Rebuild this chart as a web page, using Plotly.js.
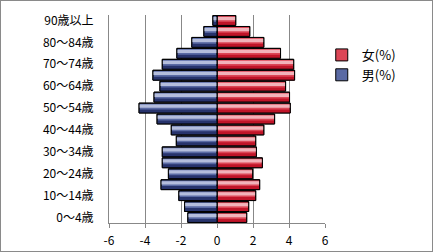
<!DOCTYPE html>
<html>
<head>
<meta charset="utf-8">
<script src="https://cdn.plot.ly/plotly-3.0.1.min.js"></script>
<style>
html,body{margin:0;padding:0;background:#fff;}
#chart{width:433px;height:252px;}
#frame{position:absolute;left:0;top:0;width:433px;height:252px;box-sizing:border-box;border:1px solid #8a8a8a;pointer-events:none;}
</style>
</head>
<body>
<div id="chart"></div>
<div id="frame"></div>
<script>
const ageGroups = ['0〜4歳','5〜9歳','10〜14歳','15〜19歳','20〜24歳','25〜29歳','30〜34歳','35〜39歳','40〜44歳','45〜49歳','50〜54歳','55〜59歳','60〜64歳','65〜69歳','70〜74歳','75〜79歳','80〜84歳','85〜89歳','90歳以上'];
const male = [-1.62,-1.80,-2.12,-3.11,-2.70,-3.04,-3.04,-2.26,-2.54,-3.33,-4.33,-3.50,-3.17,-3.56,-3.04,-2.23,-1.40,-0.73,-0.23];
const female = [1.65,1.76,2.15,2.37,1.98,2.52,2.19,2.15,2.60,3.20,4.07,4.03,3.81,4.31,4.26,3.53,2.60,1.82,1.04];
const tickLabels = ['0〜4歳','10〜14歳','20〜24歳','30〜34歳','40〜44歳','50〜54歳','60〜64歳','70〜74歳','80〜84歳','90歳以上'];
const xTicks = [-6,-4,-2,0,2,4,6];

const FONT = '"Noto Sans CJK JP", "DejaVu Sans", sans-serif';

function layers(vals, name, group, mid, dark, light) {
  return [
    {type:'bar', orientation:'h', y:ageGroups, x:vals, name:name, legendgroup:group,
     width:0.9, offset:-0.45, marker:{color:mid, line:{color:'#000', width:1}}, hoverinfo:'x+y'},
    {type:'bar', orientation:'h', y:ageGroups, x:vals, showlegend:false, legendgroup:group,
     width:0.32, offset:-0.45, marker:{color:dark, line:{width:0}}, hoverinfo:'skip'},
    {type:'bar', orientation:'h', y:ageGroups, x:vals, showlegend:false, legendgroup:group,
     width:0.3, offset:0.02, marker:{color:light, line:{width:0}}, hoverinfo:'skip'},
    {type:'bar', orientation:'h', y:ageGroups, x:vals, showlegend:false, legendgroup:group,
     width:0.9, offset:-0.45, marker:{color:'rgba(0,0,0,0)', line:{color:'#000', width:1}}, hoverinfo:'skip'}
  ];
}

const data = [].concat(
  layers(female, '女(%)', 'f', '#dc4656', '#c01428', '#f2b3ba'),
  layers(male, '男(%)', 'm', '#5a6aa4', '#27336c', '#b4bddc')
);

const layout = {
  width:433, height:252,
  margin:{l:109, r:108, t:15, b:29, pad:0},
  paper_bgcolor:'#fff', plot_bgcolor:'#fff',
  barmode:'overlay',
  font:{family:FONT, size:12, color:'#000'},
  showlegend:true,
  legend:{x:0.985, xanchor:'left', y:0.88, yanchor:'top', font:{family:FONT, size:13, color:'#000'},
          tracegroupgap:10, traceorder:'normal', bgcolor:'rgba(0,0,0,0)'},
  xaxis:{range:[-6,6], tickvals:xTicks, ticktext:xTicks.map(String), showgrid:true, gridcolor:'#888', gridwidth:1,
         zeroline:true, zerolinecolor:'#888', zerolinewidth:1, showline:true, linecolor:'#888', linewidth:1,
         ticks:'outside', ticklen:4, tickcolor:'#888', ticklabelstandoff:3,
         tickfont:{family:FONT, size:12, color:'#000'}, fixedrange:true},
  yaxis:{type:'category', categoryorder:'array', categoryarray:ageGroups, tickvals:tickLabels, ticktext:tickLabels,
         showgrid:false, zeroline:false, showline:true, linecolor:'#888', linewidth:1, ticks:'', ticklabelstandoff:12,
         tickfont:{family:FONT, size:12, color:'#000'}, fixedrange:true}
};

Plotly.newPlot('chart', data, layout, {displayModeBar:false, staticPlot:true});
</script>
</body>
</html>
